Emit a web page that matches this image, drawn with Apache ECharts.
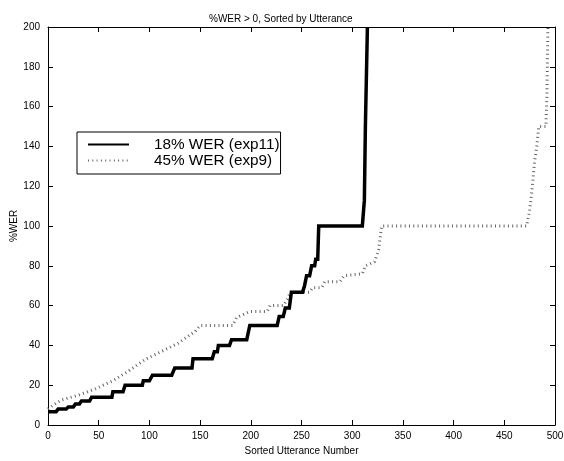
<!DOCTYPE html>
<html>
<head>
<meta charset="utf-8">
<script src="https://cdn.jsdelivr.net/npm/echarts@6/dist/echarts.min.js"></script>
<style>
html,body{margin:0;padding:0;background:#fff;}
#chart{width:564px;height:461px;}
</style>
</head>
<body>
<div id="chart"></div>
<script>
// exp11 (18% WER): step levels, each held from startX to endX
var exp11Start = [0, 10, 20, 27, 33, 43, 64, 76, 94, 103, 125, 143, 164, 168, 181, 199, 228, 234, 240, 253, 255, 260, 264, 267, 312, 313, 315];
var exp11End   = [8, 18, 25, 31, 41, 63, 74, 93, 100, 122, 142, 162, 167, 179, 196, 226, 232, 238, 251, 254, 258, 263, 266, 310, 312, 314, 315];
var exp11Wer   = [6.7, 8, 9.1, 10.5, 12, 14, 16.7, 20, 22.2, 25, 28.6, 33.3, 36.8, 40, 42.9, 50, 54.5, 58.8, 66.7, 70, 75, 80, 83.3, 100, 113, 150, 200];

// exp9 (45% WER)
var exp9X   = [0, 5, 13, 30, 46, 63, 79, 96, 112, 128, 145, 150, 182, 186, 199, 216, 219, 232, 236, 239, 258, 261, 270, 273, 288, 292, 310, 313, 322, 326, 329, 472, 474, 476, 478, 480, 482, 484, 491, 492, 493];
var exp9Wer = [8, 10, 12.5, 15, 18, 22, 27, 33, 37, 41, 47, 50, 50, 54, 57, 57, 60, 60, 63, 66.7, 66.7, 69, 69, 72, 72, 75, 76, 80, 82, 88, 100, 100, 105, 112, 122, 133, 140, 150, 150, 165, 200];

var xTicks = [0, 50, 100, 150, 200, 250, 300, 350, 400, 450, 500];
var yTicks = [0, 20, 40, 60, 80, 100, 120, 140, 160, 180, 200];

var seriesNames = ['18% WER (exp11)', '45% WER (exp9)'];
var titleText = '%WER > 0, Sorted by Utterance';
var xName = 'Sorted Utterance Number';
var yName = '%WER';

var exp11Data = [];
for (var i = 0; i < exp11Start.length; i++) {
  exp11Data.push([exp11Start[i], exp11Wer[i]]);
  if (exp11End[i] !== exp11Start[i]) exp11Data.push([exp11End[i], exp11Wer[i]]);
}
var exp9Data = exp9X.map(function (x, i) { return [x, exp9Wer[i]]; });

var FONT = 'Liberation Sans, Arial, Helvetica, sans-serif';
var chart = echarts.init(document.getElementById('chart'), null, {renderer: 'canvas'});

function axisCommon(showLabel) {
  return {
    axisLine: {show: true, onZero: false, lineStyle: {color: '#000', width: 1}},
    axisTick: {show: true, inside: true, length: 5, lineStyle: {color: '#000', width: 1}},
    splitLine: {show: false},
    axisLabel: {show: showLabel, color: '#000', fontSize: 10, fontFamily: FONT}
  };
}

var xBottom = Object.assign(axisCommon(true), {
  type: 'value', position: 'bottom', min: xTicks[0], max: xTicks[xTicks.length - 1], interval: 50,
  name: xName, nameLocation: 'middle', nameGap: 21, nameMoveOverlap: false,
  nameTextStyle: {color: '#000', fontSize: 10, fontFamily: FONT}
});
xBottom.axisLabel.margin = 6;
var xTop = Object.assign(axisCommon(false), {
  type: 'value', position: 'top', min: xTicks[0], max: xTicks[xTicks.length - 1], interval: 50
});
var yLeft = Object.assign(axisCommon(true), {
  type: 'value', position: 'left', min: yTicks[0], max: yTicks[yTicks.length - 1], interval: 20,
  name: yName, nameLocation: 'middle', nameGap: 29, nameMoveOverlap: false,
  nameTextStyle: {color: '#000', fontSize: 10, fontFamily: FONT}
});
yLeft.axisLabel.margin = 8;
var yRight = Object.assign(axisCommon(false), {
  type: 'value', position: 'right', min: yTicks[0], max: yTicks[yTicks.length - 1], interval: 20
});

chart.setOption({
  animation: false,
  backgroundColor: '#fff',
  title: {
    text: titleText, left: 204, top: 9,
    textStyle: {color: '#000', fontSize: 10, fontWeight: 'normal', fontFamily: FONT}
  },
  grid: {left: 48, right: 9, top: 27, bottom: 36, containLabel: false, outerBoundsMode: 'none'},
  legend: {
    show: true,
    orient: 'vertical', left: 77, top: 132,
    padding: [5, 1, 6, 10], itemGap: 1,
    itemWidth: 41, itemHeight: 14,
    borderColor: '#000', borderWidth: 1, backgroundColor: '#fff',
    itemStyle: {opacity: 0},
    textStyle: {color: '#000', fontSize: 15.3, fontFamily: FONT, padding: [0, 0, 0, 20]},
    data: [seriesNames[0], seriesNames[1]]
  },
  xAxis: [xBottom, xTop],
  yAxis: [yLeft, yRight],
  series: [
    {
      name: seriesNames[0], type: 'line', xAxisIndex: 0, yAxisIndex: 0,
      data: exp11Data, showSymbol: false, symbol: 'none', clip: true,
      lineStyle: {color: '#000', width: 3.5, type: 'solid', join: 'miter'},
      itemStyle: {color: '#000'}, z: 3
    },
    {
      name: seriesNames[1], type: 'line', xAxisIndex: 0, yAxisIndex: 0,
      data: exp9Data, showSymbol: false, symbol: 'none', clip: true,
      lineStyle: {color: '#666', width: 3, type: [1, 3.3]},
      itemStyle: {color: '#666'}, z: 2
    }
  ]
});
</script>
</body>
</html>
